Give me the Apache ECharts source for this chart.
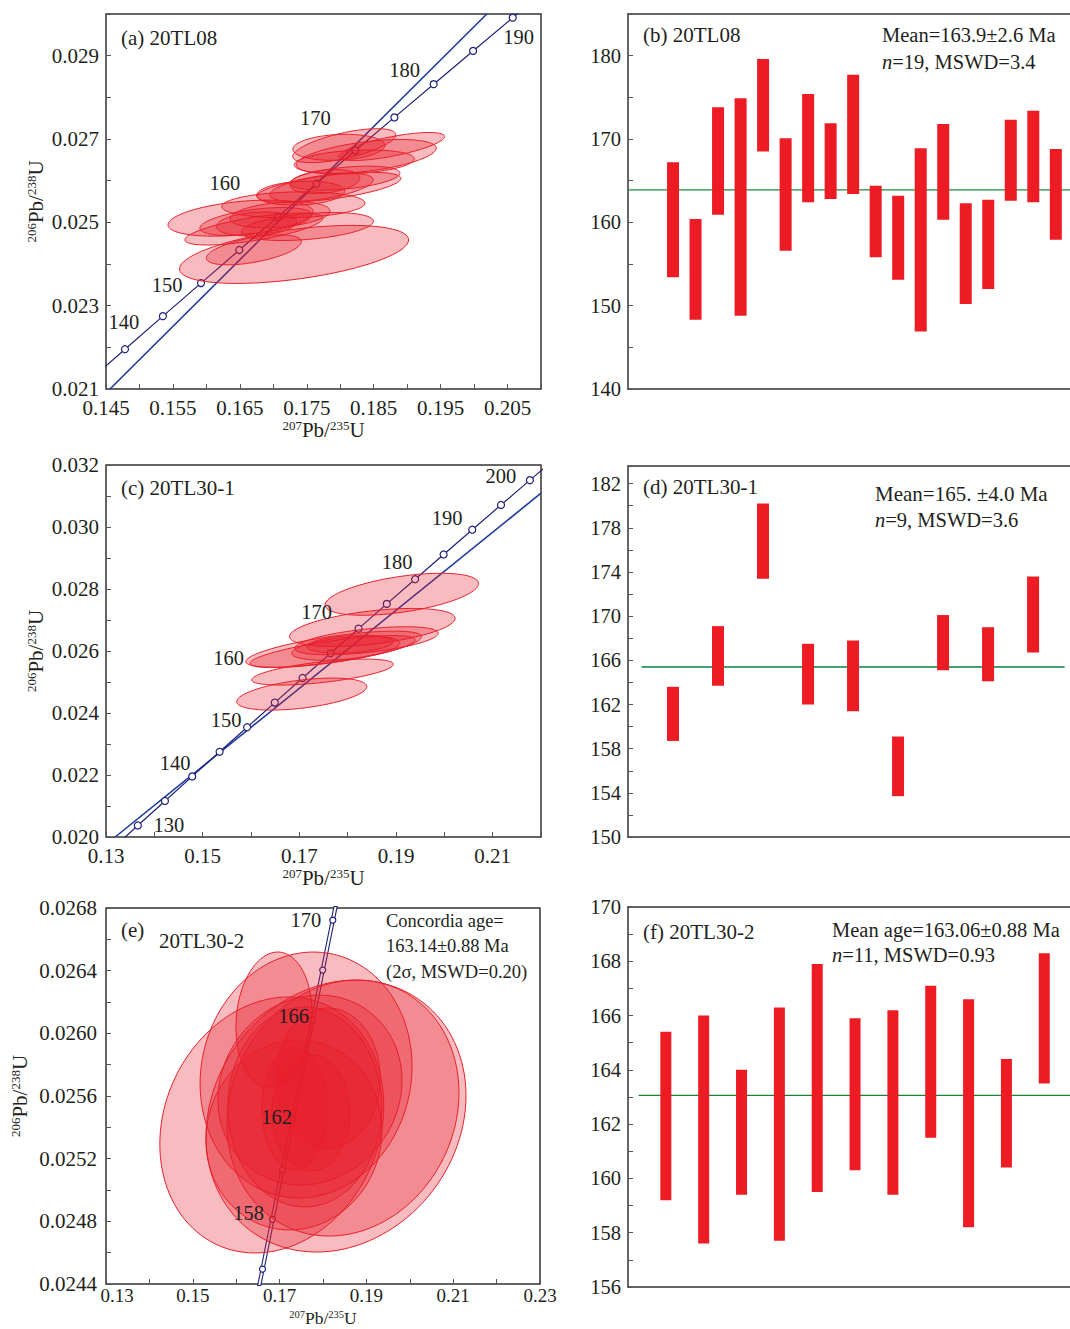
<!DOCTYPE html>
<html>
<head>
<meta charset="utf-8">
<title>U-Pb concordia and weighted mean ages</title>
<script src="https://cdn.jsdelivr.net/npm/echarts@6/dist/echarts.min.js"></script>
<style>
  html, body { margin: 0; padding: 0; background: #ffffff; }
  #chart { width: 1070px; height: 1329px; }
</style>
</head>
<body>
<div id="chart"></div>
<script>
// Decay constants (per year) for the Wetherill concordia
const LAMBDA_238 = 1.55125e-10;
const LAMBDA_235 = 9.8485e-10;

// ---------- (a) 20TL08 : concordia ----------
const curveAgesA = [135, 140, 145, 150, 155, 160, 165, 170, 175, 180, 185, 190, 195];
const markAgesA = [140, 145, 150, 155, 160, 165, 170, 175, 180, 185, 190];
const labelAgesA = [140, 150, 160, 170, 180, 190];
const refLineA = [[0.1456, 0.021], [0.2019, 0.030]];
// error ellipses: [207Pb/235U, 206Pb/238U, half-width x, half-height y, rho]
const ellipsesA = [
  [0.1806, 0.02684, 0.00770, 0.000408, 0.64],
  [0.1877, 0.02682, 0.00789, 0.000336, 0.71],
  [0.1839, 0.02658, 0.01046, 0.000408, 0.49],
  [0.1821, 0.02645, 0.00897, 0.000288, 0.25],
  [0.1798, 0.02680, 0.00687, 0.000312, 0.15],
  [0.1783, 0.02584, 0.01076, 0.000360, 0.60],
  [0.1777, 0.02598, 0.00523, 0.000288, 0.28],
  [0.1772, 0.02584, 0.00773, 0.000336, 0.54],
  [0.1730, 0.02542, 0.01071, 0.000312, 0.13],
  [0.1741, 0.02570, 0.00657, 0.000288, 0.17],
  [0.1807, 0.02606, 0.00822, 0.000288, 0.42],
  [0.1651, 0.02510, 0.01083, 0.000432, 0.37],
  [0.1671, 0.02484, 0.01031, 0.000384, 0.68],
  [0.1674, 0.02502, 0.00837, 0.000336, 0.48],
  [0.1675, 0.02496, 0.00598, 0.000288, 0.20],
  [0.1751, 0.02490, 0.00986, 0.000336, 0.38],
  [0.1671, 0.02434, 0.00710, 0.000360, 0.55],
  [0.1731, 0.02423, 0.01711, 0.000696, 0.50],
  [0.1710, 0.02518, 0.00747, 0.000312, 0.30]
];

// ---------- (b) 20TL08 : 206Pb/238U ages (Ma) ----------
const spotsB = [1, 2, 3, 4, 5, 6, 7, 8, 9, 10, 11, 12, 13, 14, 15, 16, 17, 18];
const lowB  = [153.4, 148.3, 160.9, 148.8, 168.5, 156.6, 162.4, 162.8, 163.4, 155.8, 153.1, 146.9, 160.3, 150.2, 152.0, 162.6, 162.4, 157.9];
const highB = [167.2, 160.4, 173.8, 174.9, 179.6, 170.1, 175.4, 171.9, 177.7, 164.4, 163.2, 168.9, 171.8, 162.3, 162.7, 172.3, 173.4, 168.8];
const meanB = 163.9;

// ---------- (c) 20TL30-1 : concordia ----------
const curveAgesC = [125, 130, 135, 140, 145, 150, 155, 160, 165, 170, 175, 180, 185, 190, 195, 200, 205];
const markAgesC = [130, 135, 140, 145, 150, 155, 160, 165, 170, 175, 180, 185, 190, 195, 200];
const labelAgesC = [130, 140, 150, 160, 170, 180, 190, 200];
const refLineC = [[0.1319, 0.020], [0.2200, 0.03109]];
const ellipsesC = [
  [0.1912, 0.02783, 0.01587, 0.000677, 0.51],
  [0.1851, 0.02676, 0.01713, 0.000613, 0.48],
  [0.1839, 0.02633, 0.01483, 0.000452, 0.54],
  [0.1771, 0.02606, 0.01817, 0.000581, 0.69],
  [0.1769, 0.02598, 0.01707, 0.000516, 0.73],
  [0.1796, 0.02609, 0.01117, 0.000387, 0.42],
  [0.1805, 0.02622, 0.00890, 0.000290, 0.28],
  [0.1748, 0.02532, 0.01465, 0.000419, 0.60],
  [0.1705, 0.02461, 0.01345, 0.000516, 0.47]
];

// ---------- (d) 20TL30-1 : 206Pb/238U ages (Ma) ----------
const spotsD = [1, 2, 3, 4, 5, 6, 7, 8, 9];
const lowD  = [158.7, 163.7, 173.4, 162.0, 161.4, 153.7, 165.1, 164.1, 166.7];
const highD = [163.6, 169.1, 180.2, 167.5, 167.8, 159.1, 170.1, 169.0, 173.6];
const meanD = 165.4;

// ---------- (e) 20TL30-2 : concordia ----------
const curveAgesE = [150, 155, 160, 165, 170, 175];
const markAgesE = [156, 158, 160, 162, 164, 166, 168, 170];
const labelAgesE = [158, 162, 166, 170];
const ellipsesE = [
  [0.1682, 0.025415, 0.02580, 0.000817, 0.15],
  [0.1830, 0.025472, 0.02995, 0.000868, 0.15],
  [0.1846, 0.025523, 0.02673, 0.000817, 0.12],
  [0.1687, 0.026085, 0.00876, 0.000434, 0.10],
  [0.1761, 0.025734, 0.02442, 0.000785, 0.07],
  [0.1770, 0.025638, 0.02120, 0.000606, 0.10],
  [0.1733, 0.025351, 0.02028, 0.000606, 0.05],
  [0.1758, 0.025530, 0.01774, 0.000638, 0.00],
  [0.1812, 0.025715, 0.01198, 0.000447, 0.00],
  [0.1735, 0.025517, 0.00760, 0.000389, 0.00],
  [0.1772, 0.025492, 0.00899, 0.000370, 0.00]
];

// ---------- (f) 20TL30-2 : 206Pb/238U ages (Ma) ----------
const spotsF = [1, 2, 3, 4, 5, 6, 7, 8, 9, 10, 11];
const lowF  = [159.2, 157.6, 159.4, 157.7, 159.5, 160.3, 159.4, 161.5, 158.2, 160.4, 163.5];
const highF = [165.4, 166.0, 164.0, 166.3, 167.9, 165.9, 166.2, 167.1, 166.6, 164.4, 168.3];
const meanF = 163.06;

// ---------- styling ----------
const FONT = '"Liberation Serif", "Times New Roman", serif';
const INK = '#231f20';
const FRAME = '#333333';
const ELL_FILL = 'rgba(232,30,42,0.30)';
const ELL_LINE = '#e8202a';
const BAR_RED = '#ed1c24';
const NAVY = '#1f2178';
const BLUE = '#1f3a9e';

// label placement around the concordia marks (pixel offsets)
const labelOffsetA = {140: [-1, -27], 150: [-34, 2], 160: [-53, -34], 170: [-40, -33], 180: [-29, -14], 190: [6, 19]};
const labelOffsetC = {130: [31, -1], 140: [-17, -13], 150: [-21, -7], 160: [-74, -20], 170: [-42, -17], 180: [-18, -17], 190: [-25, -12], 200: [-29, -4]};
const labelOffsetE = {158: [-24, -6], 162: [-16, -3], 166: [-19, -4], 170: [-27, 0]};

function concordia(tMa) {
  return [Math.expm1(LAMBDA_235 * tMa * 1e6), Math.expm1(LAMBDA_238 * tMa * 1e6)];
}

const ratioName = (a, b) => '{s|' + a + '}Pb/{s|' + b + '}U';
function nameStyle(size, supSize) {
  return {
    fontFamily: FONT, fontSize: size, color: INK,
    rich: { s: { fontFamily: FONT, fontSize: supSize, color: INK, verticalAlign: 'top', padding: [0, 0, 6, 0] } }
  };
}

function tickCfg() {
  return { show: true, inside: true, length: 5, lineStyle: { color: '#555', width: 1 } };
}
const frameLine = { show: true, onZero: false, lineStyle: { color: FRAME, width: 1.5 } };

// x axis of a concordia panel; the bottom panel uses a slightly tighter label/name stack
function concordiaXAxis(grid, min, max, interval, fmt, look) {
  return {
    type: 'value', gridIndex: grid, min: min, max: max, interval: interval,
    axisLine: { show: false, onZero: false }, splitLine: { show: false }, axisTick: tickCfg(),
    axisLabel: {
      fontFamily: FONT, fontSize: look.label, color: INK, margin: look.margin, formatter: fmt, hideOverlap: false,
      // the corner label is nudged clear of the y label sitting at the same corner
      rich: { corner: { fontFamily: FONT, fontSize: look.label, color: INK, padding: [0, 0, 0, 22] } }
    },
    name: ratioName(207, 235), nameLocation: 'middle', nameGap: look.gap, nameMoveOverlap: false,
    nameTextStyle: nameStyle(look.name, look.sup)
  };
}
const roomyX = { label: 21, margin: 8, gap: 30, name: 21, sup: 13 };
const tightX = { label: 19, margin: 2, gap: 25, name: 17.5, sup: 10.5 };

function concordiaYAxis(grid, min, max, interval, fmt, gap, margin) {
  return {
    type: 'value', gridIndex: grid, min: min, max: max, interval: interval,
    axisLine: { show: false, onZero: false }, splitLine: { show: false }, axisTick: tickCfg(),
    axisLabel: { fontFamily: FONT, fontSize: 21, color: INK, margin: margin, formatter: fmt, hideOverlap: false },
    name: ratioName(206, 238), nameLocation: 'middle', nameRotate: 90, nameGap: gap, nameTextStyle: nameStyle(21, 13)
  };
}
function ageYAxis(grid, min, max, interval, fmt) {
  return {
    type: 'value', gridIndex: grid, min: min, max: max, interval: interval,
    axisLine: frameLine, splitLine: { show: false }, axisTick: tickCfg(),
    axisLabel: { fontFamily: FONT, fontSize: 20.5, color: INK, margin: 7, formatter: fmt, hideOverlap: false }
  };
}
// spot-number axis: only its line is drawn (bottom frame); a twin on top closes the frame
function spotXAxis(grid, min, max, pos) {
  return {
    type: 'value', gridIndex: grid, min: min, max: max, position: pos,
    axisLine: frameLine, axisTick: { show: false }, axisLabel: { show: false }, splitLine: { show: false }
  };
}

function lineSeries(grid, points, color, width, z) {
  return {
    type: 'line', xAxisIndex: grid, yAxisIndex: grid, data: points,
    symbol: 'none', showSymbol: false, smooth: false, silent: true, clip: true,
    lineStyle: { color: color, width: width }, z: z
  };
}
function markSeries(grid, ages, size, border, z) {
  return {
    type: 'scatter', xAxisIndex: grid, yAxisIndex: grid, data: ages.map(concordia),
    symbol: 'circle', symbolSize: size, silent: true,
    itemStyle: { color: '#ffffff', borderColor: border, borderWidth: 1.2, opacity: 1 }, z: z
  };
}
function ellipseSeries(grid, data) {
  return {
    type: 'custom', xAxisIndex: grid, yAxisIndex: grid, data: data, z: 4, silent: true,
    renderItem: function (params, api) {
      const cx = api.value(0), cy = api.value(1), sx = api.value(2), sy = api.value(3), r = api.value(4);
      const k = Math.sqrt(1 - r * r);
      const pts = [];
      const n = 120;
      for (let i = 0; i < n; i++) {
        const t = i / n * Math.PI * 2;
        const c = Math.cos(t), s = Math.sin(t);
        pts.push(api.coord([cx + sx * c, cy + sy * (r * c + k * s)]));
      }
      return { type: 'polygon', shape: { points: pts }, style: { fill: ELL_FILL, stroke: ELL_LINE, lineWidth: 1 } };
    }
  };
}
function ageLabelSeries(grid, ages, offsets) {
  return {
    type: 'custom', xAxisIndex: grid, yAxisIndex: grid, z: 6, silent: true,
    data: ages.map(function (a) { return concordia(a).concat([a]); }),
    renderItem: function (params, api) {
      const p = api.coord([api.value(0), api.value(1)]);
      const age = api.value(2);
      const off = offsets[age];
      return {
        type: 'text', x: p[0] + off[0], y: p[1] + off[1],
        style: { text: String(age), fontFamily: FONT, fontSize: 20.5, fill: INK, align: 'center', verticalAlign: 'middle' }
      };
    }
  };
}
function barSeries(grid, spots, low, high, w) {
  return {
    type: 'custom', xAxisIndex: grid, yAxisIndex: grid, z: 4, silent: true,
    data: spots.map(function (s, i) { return [s, low[i], high[i]]; }),
    encode: { x: 0, y: [1, 2] },
    renderItem: function (params, api) {
      const top = api.coord([api.value(0), api.value(2)]);
      const bot = api.coord([api.value(0), api.value(1)]);
      return { type: 'rect', shape: { x: top[0] - w / 2, y: top[1], width: w, height: bot[1] - top[1] }, style: { fill: BAR_RED } };
    }
  };
}

// tick label formatters
const fmtA_x = v => (Math.round(v * 1000) % 10 === 5 ? v.toFixed(3) : '');
const fmtA_y = v => (Math.round(v * 1000) % 2 === 1 ? v.toFixed(3) : '');
const fmtC_x = v => (Math.round(v * 100) % 2 === 1 ? v.toFixed(2) : '');
const fmtC_y = v => (Math.round(v * 1000) % 2 === 0 ? v.toFixed(3) : '');
const fmtE_x = v => {
  const k = Math.round(v * 100);
  if (k % 2 !== 1) return '';
  return k === 13 ? '{corner|' + v.toFixed(2) + '}' : v.toFixed(2);
};
const fmtE_y = v => (Math.round(v * 10000) % 4 === 0 ? v.toFixed(4) : '');
const fmtB_y = v => (Math.abs(v % 10) < 1e-6 ? String(Math.round(v)) : '');
const fmtD_y = v => (Math.abs(v - Math.round(v)) < 1e-6 && (Math.round(v) - 150) % 4 === 0 ? String(Math.round(v)) : '');
const fmtF_y = v => (Math.abs(v - Math.round(v)) < 1e-6 && Math.round(v) % 2 === 0 ? String(Math.round(v)) : '');

// grids are placed exactly where they belong on the page
const boxed = { show: true, borderColor: FRAME, borderWidth: 1.5, backgroundColor: 'transparent', containLabel: false, outerBoundsMode: 'none' };
const open = { show: false, containLabel: false, outerBoundsMode: 'none' };

// x ranges of the age panels (spot spacing: b 22.5 px, d 45 px, f 37.85 px over a 442 px wide grid)
const rangeB = [-1, 18.63], rangeD = [0, 9.82], rangeF = [0, 11.68];

function txt(x, y, text, size, extra) {
  const style = Object.assign({ text: text, fontFamily: FONT, fontSize: size, fill: INK, align: 'left', verticalAlign: 'middle' }, extra || {});
  return { type: 'text', x: x, y: y, z: 20, silent: true, style: style };
}
const italicN = { rich: { i: { fontFamily: FONT, fontStyle: 'italic', fontSize: 20.5, fill: INK } } };

const option = {
  animation: false,
  backgroundColor: '#ffffff',
  grid: [
    Object.assign({ left: 106, top: 14, width: 435, height: 375 }, boxed),
    Object.assign({ left: 628, top: 14, width: 442, height: 375 }, open),
    Object.assign({ left: 106, top: 465, width: 435, height: 372 }, boxed),
    Object.assign({ left: 628, top: 466, width: 442, height: 371 }, open),
    Object.assign({ left: 106, top: 908, width: 434, height: 376 }, boxed),
    Object.assign({ left: 628, top: 907, width: 442, height: 380 }, open)
  ],
  xAxis: [
    concordiaXAxis(0, 0.145, 0.21, 0.005, fmtA_x, roomyX),
    spotXAxis(1, rangeB[0], rangeB[1], 'bottom'),
    concordiaXAxis(2, 0.13, 0.22, 0.01, fmtC_x, roomyX),
    spotXAxis(3, rangeD[0], rangeD[1], 'bottom'),
    concordiaXAxis(4, 0.13, 0.23, 0.01, fmtE_x, tightX),
    spotXAxis(5, rangeF[0], rangeF[1], 'bottom'),
    spotXAxis(1, rangeB[0], rangeB[1], 'top'),
    spotXAxis(3, rangeD[0], rangeD[1], 'top'),
    spotXAxis(5, rangeF[0], rangeF[1], 'top')
  ],
  yAxis: [
    concordiaYAxis(0, 0.021, 0.030, 0.001, fmtA_y, 60, 7),
    ageYAxis(1, 140, 185, 5, fmtB_y),
    concordiaYAxis(2, 0.020, 0.032, 0.001, fmtC_y, 60, 7),
    ageYAxis(3, 150, 183.6, 2, fmtD_y),
    concordiaYAxis(4, 0.0244, 0.0268, 0.0002, fmtE_y, 76, 9),
    ageYAxis(5, 156, 170, 1, fmtF_y)
  ],
  series: [
    // (a)
    lineSeries(0, refLineA, BLUE, 1.6, 1),
    lineSeries(0, curveAgesA.map(concordia), NAVY, 1.2, 2),
    markSeries(0, markAgesA, 7, NAVY, 3),
    ellipseSeries(0, ellipsesA),
    ageLabelSeries(0, labelAgesA, labelOffsetA),
    // (b)
    lineSeries(1, [[rangeB[0], meanB], [rangeB[1], meanB]], '#1e8a3c', 1.4, 2),
    barSeries(1, spotsB, lowB, highB, 12),
    // (c)
    lineSeries(2, refLineC, BLUE, 1.6, 1),
    lineSeries(2, curveAgesC.map(concordia), NAVY, 1.2, 2),
    markSeries(2, markAgesC, 7, NAVY, 3),
    ellipseSeries(2, ellipsesC),
    ageLabelSeries(2, labelAgesC, labelOffsetC),
    // (d)
    lineSeries(3, [[0.3, meanD], [9.7, meanD]], '#3fa46f', 2, 2),
    barSeries(3, spotsD, lowD, highD, 12),
    // (e)
    lineSeries(4, curveAgesE.map(concordia), NAVY, 4.2, 1),
    lineSeries(4, curveAgesE.map(concordia), '#ffffff', 2, 2),
    markSeries(4, markAgesE, 6, NAVY, 3),
    ellipseSeries(4, ellipsesE),
    ageLabelSeries(4, labelAgesE, labelOffsetE),
    // (f)
    lineSeries(5, [[0.28, meanF], [rangeF[1], meanF]], '#1a8232', 1.4, 2),
    barSeries(5, spotsF, lowF, highF, 11)
  ],
  graphic: {
    elements: [
      txt(121, 38, '(a) 20TL08', 21),
      txt(643, 35, '(b) 20TL08', 21),
      txt(882, 35, 'Mean=163.9\u00b12.6 Ma', 20.5),
      txt(882, 62, '{i|n}=19, MSWD=3.4', 20.5, italicN),
      txt(121, 488, '(c) 20TL30-1', 21),
      txt(643, 487, '(d) 20TL30-1', 21),
      txt(875, 494, 'Mean=165. \u00b14.0 Ma', 21),
      txt(875, 520, '{i|n}=9, MSWD=3.6', 20.5, italicN),
      txt(121, 930, '(e)', 21),
      txt(159, 941, '20TL30-2', 21),
      txt(386, 921, 'Concordia age=', 18.5),
      txt(386, 946, '163.14\u00b10.88 Ma', 18.5),
      txt(386, 972, '(2\u03c3, MSWD=0.20)', 18.5),
      txt(643, 932, '(f) 20TL30-2', 21),
      txt(832, 930, 'Mean age=163.06\u00b10.88 Ma', 20.5),
      txt(832, 955, '{i|n}=11, MSWD=0.93', 20.5, italicN)
    ]
  }
};

const chart = echarts.init(document.getElementById('chart'), null, { renderer: 'svg', width: 1070, height: 1329 });
chart.setOption(option);
</script>
</body>
</html>
